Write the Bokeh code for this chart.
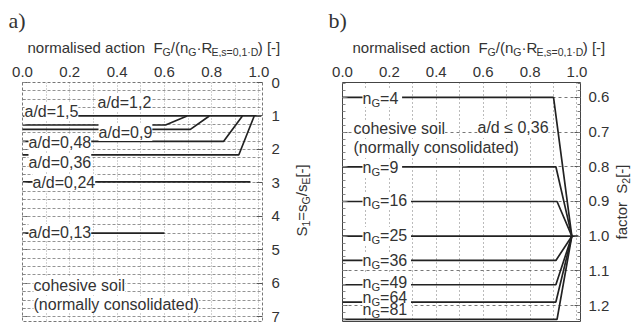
import math
from bokeh.plotting import figure
from bokeh.models import (Range1d, LinearAxis, Label, FixedTicker, SingleIntervalTicker,
                          PrintfTickFormatter, CustomJSTickFormatter)
from bokeh.layouts import row, column
from bokeh.embed import file_html
from bokeh.resources import INLINE

# ---------------- data ----------------
x_ticks = [0.0, 0.2, 0.4, 0.6, 0.8, 1.0]
s1_ticks = [0, 1, 2, 3, 4, 5, 6, 7]
s2_ticks = [0.6, 0.7, 0.8, 0.9, 1.0, 1.1, 1.2]

ad_names = ["a/d=1,5", "a/d=1,2", "a/d=0,9", "a/d=0,48", "a/d=0,36", "a/d=0,24", "a/d=0,13"]
ad_s1 = [1.00, 1.27, 1.40, 1.76, 2.16, 2.97, 4.50]          # plateau value S1
ad_x_flat_end = [1.01, 0.605, 0.71, 0.85, 0.915, 0.964, 0.60]  # end of plateau
ad_x_reach1 = [None, 0.696, 0.79, 0.93, 0.98, None, None]    # where curve reaches S1 = 1

ng_names = ["4", "9", "16", "25", "36", "49", "64", "81"]
ng_s2 = [0.60, 0.80, 0.90, 1.00, 1.07, 1.14, 1.19, 1.24]
ng_x_flat_end = [0.90, 0.91, 0.915, 1.006, 0.91, 0.91, 0.91, 0.915]
conv_x = 0.978
conv_s2 = 1.0

# ---------------- helpers ----------------
NB = "\u00a0"
AW = {' ': 278, NB: 278, '!': 278, '(': 333, ')': 333, ',': 278, '-': 333, '.': 278, '/': 278,
      '=': 584, '[': 278, ']': 278, '\u00b7': 278, '\u2264': 549,
      'A': 667, 'D': 722, 'E': 667, 'F': 611, 'G': 778, 'R': 722, 'S': 667,
      'a': 556, 'b': 556, 'c': 500, 'd': 556, 'e': 556, 'f': 278, 'h': 556, 'i': 222, 'l': 222,
      'm': 833, 'n': 556, 'o': 556, 'r': 333, 's': 500, 't': 278, 'v': 500, 'y': 500}
for _d in "0123456789":
    AW[_d] = 556


def tw(s, size):
    return sum(AW.get(c, 556) for c in s) * size / 1000.0


FONT = "Liberation Sans"
TXT = "#333333"
LINE = "#222222"
TOP_H = 57
MID = 0.3465   # (ascent - descent) / 2 for Liberation Sans, in em


class Frame:
    """page-pixel -> frame-relative screen units (origin frame bottom-left, y up)."""
    def __init__(self, left, top, w, h):
        self.left, self.top, self.w, self.h = left, top, w, h

    def sx(self, px):
        return px - self.left

    def sy(self, py):
        return (self.top + self.h) - py


def rich_bg(p, fr, segs, x0, base, size, bg="white", font=FONT, mid=MID):
    full = "".join(t for t, _ in segs)
    p.add_layout(Label(x=fr.sx(x0), y=fr.sy(base - mid * size), x_units="screen",
                       y_units="screen", text=full, text_font=font,
                       text_font_size="%.1fpx" % size, text_color=bg, text_align="left",
                       text_baseline="middle", background_fill_color=bg))


def rich(p, fr, segs, x0, base, size, angle=0.0, font=FONT, color=TXT, mid=MID,
         sub_shift=0.2):
    """Text with subscripts; base = baseline position (page px) of the main text."""
    pos = 0.0
    for txt, sub in segs:
        fs = size * 0.7 if sub else size
        m = base + (size * sub_shift if sub else 0.0) - mid * fs
        if angle == 0.0:
            px, py = x0 + pos, m
        else:
            # rotated 90 deg ccw: x0 is the start (bottom) y, base is baseline x
            px, py = m, x0 - pos
        p.add_layout(Label(x=fr.sx(px), y=fr.sy(py), x_units="screen", y_units="screen",
                           text=txt, text_font=font,
                           text_font_size="%.1fpx" % fs, text_color=color,
                           text_align="left", text_baseline="middle", angle=angle))
        pos += tw(txt, fs)


def plain(p, fr, txt, x0, yc, size=16, bg="white", font=FONT):
    lab = Label(x=fr.sx(x0), y=fr.sy(yc), x_units="screen", y_units="screen",
                text=txt, text_font=font, text_font_size="%dpx" % size,
                text_color=TXT, text_align="left", text_baseline="middle")
    if bg:
        lab.background_fill_color = bg
    p.add_layout(lab)


def strip(width, height):
    s = figure(width=width, height=height, output_backend="svg", toolbar_location=None,
               title=None,
               x_range=Range1d(0, width), y_range=Range1d(0, height),
               x_axis_location=None, y_axis_location=None,
               min_border=0, min_border_left=0, min_border_right=0,
               min_border_top=0, min_border_bottom=0)
    s.grid.visible = False
    s.outline_line_color = None
    s.background_fill_color = "white"
    s.border_fill_color = "white"
    return s


def style_xaxis(p):
    for ax in p.xaxis:
        ax.ticker = FixedTicker(ticks=x_ticks)
        ax.formatter = PrintfTickFormatter(format="%.1f")
        ax.axis_line_color = None
        ax.major_tick_line_color = None
        ax.minor_tick_line_color = None
        ax.major_tick_out = 0
        ax.minor_tick_out = 0
        ax.major_tick_in = 0
        ax.minor_tick_in = 0
        ax.major_label_text_font = FONT
        ax.major_label_text_font_size = "15px"
        ax.major_label_text_color = TXT
        ax.major_label_standoff = 6


def style_yright(ax, ticks, minor, fmt, standoff):
    ax.ticker = FixedTicker(ticks=ticks, minor_ticks=minor)
    ax.formatter = PrintfTickFormatter(format=fmt)
    ax.axis_line_color = None
    ax.major_tick_in = 6
    ax.major_tick_out = 0
    ax.minor_tick_in = 3
    ax.minor_tick_out = 0
    ax.major_tick_line_color = "#555555"
    ax.minor_tick_line_color = "#777777"
    ax.major_label_text_font = FONT
    ax.major_label_text_font_size = "15px"
    ax.major_label_text_color = TXT
    ax.major_label_standoff = standoff


def left_ticks_axis(ticks, minor):
    return LinearAxis(ticker=FixedTicker(ticks=ticks, minor_ticks=minor),
                      formatter=CustomJSTickFormatter(code="return ''"),
                      axis_line_color=None, major_tick_in=5, major_tick_out=0,
                      minor_tick_in=3, minor_tick_out=0, major_tick_line_color="#666666",
                      minor_tick_line_color="#888888", major_label_text_font_size="1px",
                      major_label_standoff=0)


title_segs = [("normalised action " + NB + "F", 0), ("G", 1), ("/(n", 0), ("G", 1),
              ("\u00b7R", 0), ("E,s=0,1\u00b7D", 1), (") [-]", 0)]

# ---------------- top strip (panel letters + titles) ----------------
top = strip(633, TOP_H)
FT = Frame(0, 0, 633, TOP_H)
rich(top, FT, [("a)", 0)], 8, 27, 22, font="Liberation Serif", mid=0.3375)
rich(top, FT, [("b)", 0)], 328, 27, 22, font="Liberation Serif", mid=0.3375)
rich(top, FT, title_segs, 27, 52.5, 15, sub_shift=0.17)
rich(top, FT, title_segs, 352, 52.5, 15, sub_shift=0.17)

BOT_H = 325 - TOP_H
XR = (0.0, 1.015)

# ---------------- left panel ----------------
F1 = Frame(22, 81, 240, 240)          # page coordinates of the plot frame
P1_W = 290
Y1 = (0.0, 7.14)
p1 = figure(width=P1_W, height=BOT_H, output_backend="svg", toolbar_location=None,
            title=None,
            x_range=Range1d(*XR), y_range=Range1d(Y1[1], Y1[0]),
            x_axis_location="above", y_axis_location="right",
            min_border_left=F1.left, min_border_right=P1_W - F1.left - F1.w,
            min_border_top=F1.top - TOP_H, min_border_bottom=325 - F1.top - F1.h)
p1.background_fill_color = "white"
p1.border_fill_color = "white"
p1.outline_line_color = "#777777"
p1.outline_line_dash = "3 2"
style_xaxis(p1)
minor1 = [i * 0.25 for i in range(29)]
style_yright(p1.yaxis[0], s1_ticks, [], "%d", 9)
p1.add_layout(left_ticks_axis(s1_ticks, minor1), "left")
p1.xgrid.ticker = SingleIntervalTicker(interval=0.1)
p1.xgrid.grid_line_color = "#666666"
p1.xgrid.grid_line_dash = "1 2"
p1.xgrid.grid_line_alpha = 0.6
p1.ygrid.ticker = SingleIntervalTicker(interval=0.25)
p1.ygrid.grid_line_color = "#666666"
p1.ygrid.grid_line_dash = "3 2"
p1.ygrid.grid_line_alpha = 0.7

for s, xe, xr1 in zip(ad_s1, ad_x_flat_end, ad_x_reach1):
    xs = [0.0, xe]
    ys = [s, s]
    if xr1 is not None:
        xs.append(xr1)
        ys.append(1.0)
    p1.line(xs, ys, line_color=LINE, line_width=1.7)

ad_label_pos = [(24, 111), (97, 102), (98, 132), (28, 142), (28, 162), (32, 182), (28, 232)]
for name, (lx, ly) in zip(ad_names, ad_label_pos):
    plain(p1, F1, name, lx, ly, 16)
plain(p1, F1, "cohesive soil", 33, 285, 16)
plain(p1, F1, "(normally consolidated)", 33, 304, 16)

# strip for the left y-axis title (rotated: start at bottom y=240, baseline x=306)
s1 = strip(316 - P1_W, BOT_H)
FS1 = Frame(P1_W, TOP_H, 316 - P1_W, BOT_H)
rich(s1, FS1, [("S", 0), ("1", 1), ("=s", 0), ("G", 1), ("/s", 0), ("E", 1), (" [-]", 0)],
     240, 306, 15, angle=math.pi / 2)

# ---------------- right panel ----------------
F2 = Frame(342, 82, 240, 239)
P2_X0 = 316
P2_W = 296
Y2 = (0.557, 1.246)
p2 = figure(width=P2_W, height=BOT_H, output_backend="svg", toolbar_location=None,
            title=None,
            x_range=Range1d(*XR), y_range=Range1d(Y2[1], Y2[0]),
            x_axis_location="above", y_axis_location="right",
            min_border_left=F2.left - P2_X0, min_border_right=P2_W - (F2.left - P2_X0) - F2.w,
            min_border_top=F2.top - TOP_H, min_border_bottom=325 - F2.top - F2.h)
p2.background_fill_color = "white"
p2.border_fill_color = "white"
p2.outline_line_color = "#444444"
style_xaxis(p2)
minor2 = [0.56 + 0.02 * i for i in range(35)]
style_yright(p2.yaxis[0], s2_ticks, minor2, "%.1f", 8)
p2.add_layout(left_ticks_axis(s2_ticks, minor2), "left")
p2.xgrid.ticker = SingleIntervalTicker(interval=0.1)
p2.xgrid.grid_line_color = "#555555"
p2.xgrid.grid_line_dash = "1 3"
p2.xgrid.grid_line_alpha = 0.8
p2.ygrid.ticker = SingleIntervalTicker(interval=0.1)
p2.ygrid.grid_line_color = "#555555"
p2.ygrid.grid_line_dash = "3 3"
p2.ygrid.grid_line_alpha = 0.8

for s, xe in zip(ng_s2, ng_x_flat_end):
    xs = [0.0, xe]
    ys = [s, s]
    if s != conv_s2:
        xs.append(conv_x)
        ys.append(conv_s2)
    p2.line(xs, ys, line_color=LINE, line_width=1.7)

ng_label_y = [98, 167, 200, 235, 260, 282, 297, 309]
# all white label boxes first, then the texts, so no box hides a neighbouring label
for name, ly in zip(ng_names, ng_label_y):
    rich_bg(p2, F2, [("n", 0), ("G", 1), ("=" + name, 0)], 362, ly + 5.5, 16)
for name, ly in zip(ng_names, ng_label_y):
    rich(p2, F2, [("n", 0), ("G", 1), ("=" + name, 0)], 362, ly + 5.5, 16)
plain(p2, F2, "cohesive soil", 353, 128, 16)
plain(p2, F2, "(normally consolidated)", 353, 147, 16)
plain(p2, F2, "a/d \u2264 0,36", 477, 127, 16)

# strip for the right y-axis title
s2 = strip(633 - P2_X0 - P2_W, BOT_H)
FS2 = Frame(P2_X0 + P2_W, TOP_H, 633 - P2_X0 - P2_W, BOT_H)
rich(s2, FS2, [("factor " + NB + "S", 0), ("2", 1), (" [-]", 0)], 243, 626, 15,
     angle=math.pi / 2)

layout = column(top, row(p1, s1, p2, s2))
open("out.html", "w").write(file_html(layout, INLINE))
